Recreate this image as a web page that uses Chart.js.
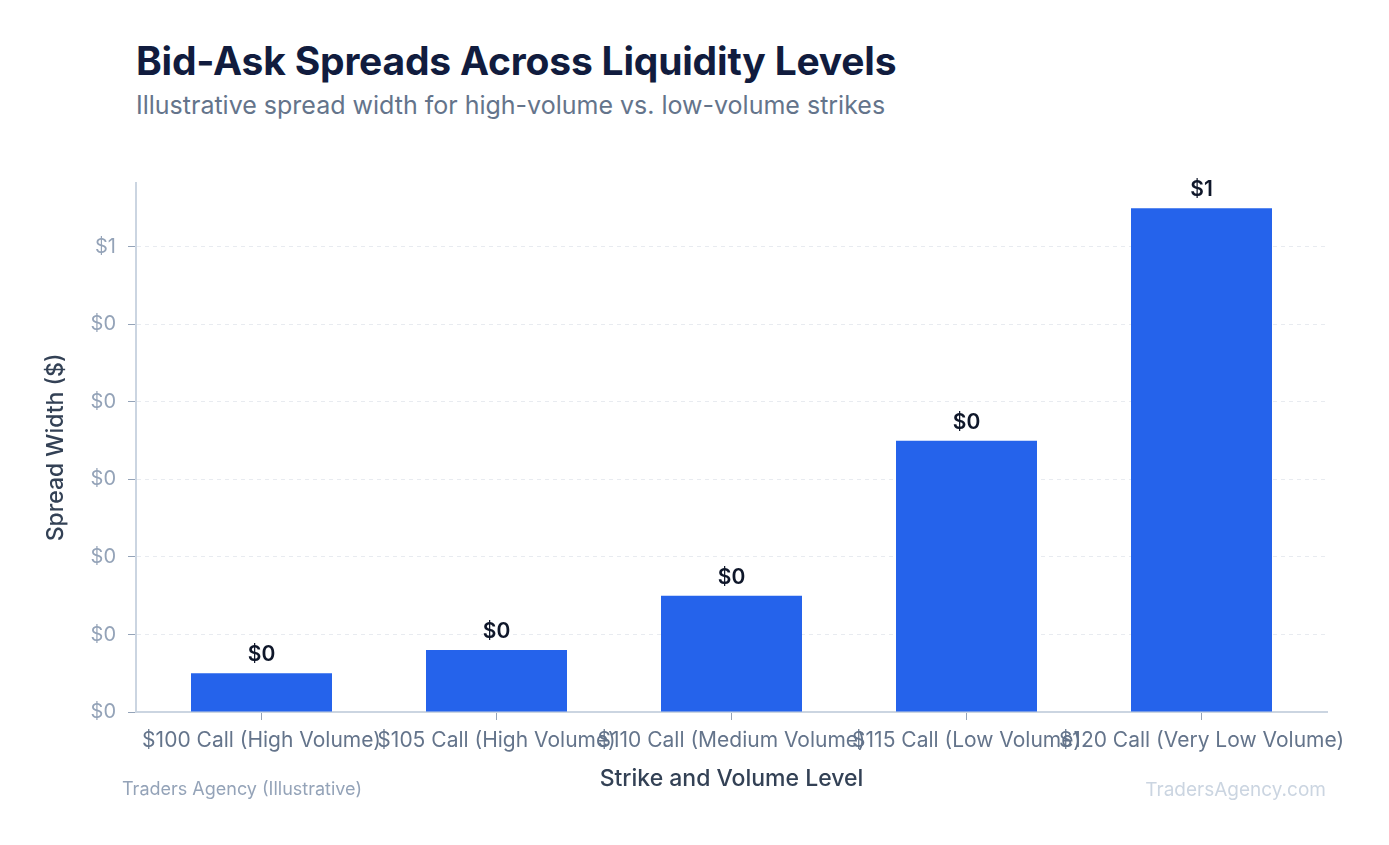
<!DOCTYPE html>
<html>
<head>
<meta charset="utf-8">
<title>Bid-Ask Spreads Across Liquidity Levels</title>
<script src="https://cdn.jsdelivr.net/npm/chart.js@4.4.1/dist/chart.umd.min.js"></script>
<style>
    html, body { margin: 0; padding: 0; background: #ffffff; }
    body { position: relative; width: 1389px; height: 845px; overflow: hidden; font-family: Inter, sans-serif; }
    #chart { position: absolute; left: 0; top: 0; }
    .title { position: absolute; left: 136px; top: 41px; margin: 0; font-size: 39px; font-weight: 700; line-height: 1; color: #111c3e; letter-spacing: -0.2px; white-space: nowrap; }
    .subtitle { position: absolute; left: 136px; top: 93px; margin: 0; font-size: 25px; font-weight: 400; line-height: 1; color: #64748b; white-space: nowrap; }
    .source { position: absolute; left: 122px; top: 780px; font-size: 18px; line-height: 1; color: #94a3b8; white-space: nowrap; }
    .brand { position: absolute; right: 63px; top: 780px; font-size: 19px; line-height: 1; color: #cbd5e1; white-space: nowrap; }
</style>
</head>
<body>
<h1 class="title">Bid-Ask Spreads Across Liquidity Levels</h1>
<p class="subtitle">Illustrative spread width for high-volume vs. low-volume strikes</p>
<canvas id="chart" width="1389" height="845"></canvas>
<div class="source">Traders Agency (Illustrative)</div>
<div class="brand">TradersAgency.com</div>
<script>
const strikes = [
    '$100 Call (High Volume)',
    '$105 Call (High Volume)',
    '$110 Call (Medium Volume)',
    '$115 Call (Low Volume)',
    '$120 Call (Very Low Volume)'
]
const spreadWidths = [0.05, 0.08, 0.15, 0.35, 0.65]
const yStep = 0.1
const yMax = Math.max(...spreadWidths) * 1.05

// whole dollars, halves go to the even side (0.5 -> $0)
function dollars(v) {
    let r = Math.round(v)
    if (Math.abs(v - Math.trunc(v)) === 0.5 && r % 2 !== 0) r -= 1
    return '$' + r
}

// value labels sitting on top of each bar
const barValueLabels = {
    id: 'barValueLabels',
    afterDatasetsDraw(chart) {
        const { ctx } = chart
        const values = chart.data.datasets[0].data
        ctx.save()
        ctx.font = '600 21px Inter'
        ctx.fillStyle = '#0f172a'
        ctx.textAlign = 'center'
        ctx.textBaseline = 'alphabetic'
        chart.getDatasetMeta(0).data.forEach((bar, i) => {
            ctx.fillText(dollars(values[i]), bar.x, bar.y - 12)
        })
        ctx.restore()
    }
}

// categories sit a little inside the axis line on both ends
const xInset = {
    id: 'xInset',
    afterLayout(chart) {
        const x = chart.scales.x
        x._startPixel += 8
        x._length -= 16
    }
}

new Chart(document.getElementById('chart'), {
    type: 'bar',
    data: {
        labels: strikes,
        datasets: [
            {
                label: 'Spread Width ($)',
                data: spreadWidths,
                backgroundColor: '#2563eb',
                borderWidth: 0,
                categoryPercentage: 1,
                barPercentage: 0.6
            }
        ]
    },
    options: {
        responsive: false,
        animation: false,
        layout: {
            padding: { left: 40, top: 183, right: 62, bottom: 52 }
        },
        scales: {
            x: {
                afterFit(scale) { scale.height = 81 },
                grid: {
                    offset: false,
                    drawOnChartArea: false,
                    drawTicks: true,
                    tickLength: 8,
                    tickColor: '#94a3b8'
                },
                border: { color: '#cbd5e1', width: 2 },
                ticks: {
                    autoSkip: false,
                    maxRotation: 0,
                    minRotation: 0,
                    padding: 8,
                    color: '#64748b',
                    font: { family: 'Inter', size: 21 }
                },
                title: {
                    display: true,
                    text: 'Strike and Volume Level',
                    color: '#334155',
                    font: { family: 'Inter', size: 23, weight: '500' },
                    padding: { top: 0, bottom: 0 }
                }
            },
            y: {
                min: 0,
                max: yMax,
                bounds: 'data',
                afterFit(scale) { scale.width = 96 },
                grid: {
                    color: '#e8ebf0',
                    tickLength: 8,
                    tickColor: '#94a3b8'
                },
                border: { color: '#cbd5e1', width: 2, dash: [4, 4] },
                ticks: {
                    stepSize: yStep,
                    includeBounds: false,
                    padding: 12,
                    color: '#94a3b8',
                    font: { family: 'Inter', size: 20 },
                    callback: v => dollars(v)
                },
                title: {
                    display: true,
                    text: 'Spread Width ($)',
                    color: '#334155',
                    font: { family: 'Inter', size: 23, weight: '500' },
                    padding: { top: 2, bottom: 4 }
                }
            }
        },
        plugins: {
            legend: { display: false },
            tooltip: { enabled: false }
        }
    },
    plugins: [barValueLabels, xInset]
})
</script>
</body>
</html>
